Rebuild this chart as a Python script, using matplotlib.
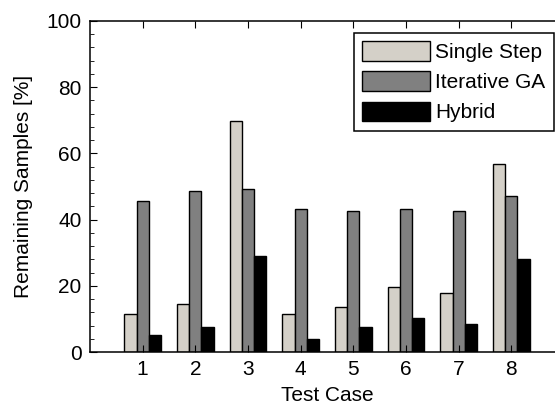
import matplotlib
matplotlib.use("Agg")
import matplotlib.pyplot as plt
import numpy as np
from matplotlib.ticker import MultipleLocator

plt.rcParams['font.family'] = ['Liberation Sans', 'DejaVu Sans']

cases = [1, 2, 3, 4, 5, 6, 7, 8]
single_step = [11.6, 14.6, 69.7, 11.6, 13.6, 19.7, 17.7, 56.9]
iterative_ga = [45.7, 48.7, 49.2, 43.2, 42.7, 43.2, 42.7, 47.2]
hybrid = [5.0, 7.6, 29.0, 4.0, 7.6, 10.2, 8.6, 28.0]
labels = ['Single Step', 'Iterative GA', 'Hybrid']
colors = ['#d4d0c8', '#808080', '#000000']

fs = 15

fig = plt.figure(figsize=(5.55, 4.08), dpi=100)
# axes runs past the right edge like the cropped original
ax = fig.add_axes([90/555, 56/408, 474/555, 331/408])

x = np.array(cases)
w = 0.233
for i, (vals, lab, c) in enumerate(zip([single_step, iterative_ga, hybrid], labels, colors)):
    ax.bar(x + (i - 1) * w, vals, width=w, color=c, edgecolor='black', linewidth=1.0, label=lab)

ax.set_xlim(0, 9)
ax.set_ylim(0, 100)
ax.set_xticks(cases)
ax.set_yticks([0, 20, 40, 60, 80, 100])
ax.yaxis.set_minor_locator(MultipleLocator(4))
ax.tick_params(axis='both', which='both', direction='in', top=True, right=True, labelsize=fs, pad=6)
ax.tick_params(which='major', length=5)
ax.tick_params(which='minor', length=3)
ax.tick_params(axis='x', which='minor', top=False, bottom=False)
for s in ax.spines.values():
    s.set_linewidth(1.1)

ax.set_xlabel('Test Case', fontsize=fs, labelpad=5)
ax.set_ylabel('Remaining Samples [%]', fontsize=fs, labelpad=10)

leg = ax.legend(loc='upper left', bbox_to_anchor=(354/555, 1 - 33/408), bbox_transform=fig.transFigure,
                fontsize=fs, frameon=True, fancybox=False, edgecolor='black', framealpha=1,
                handlelength=3.25, handleheight=1.05, labelspacing=0.45, handletextpad=0.25,
                borderpad=0.4, borderaxespad=0)
leg.get_frame().set_linewidth(1.1)

plt.savefig('out.png', dpi=100)
